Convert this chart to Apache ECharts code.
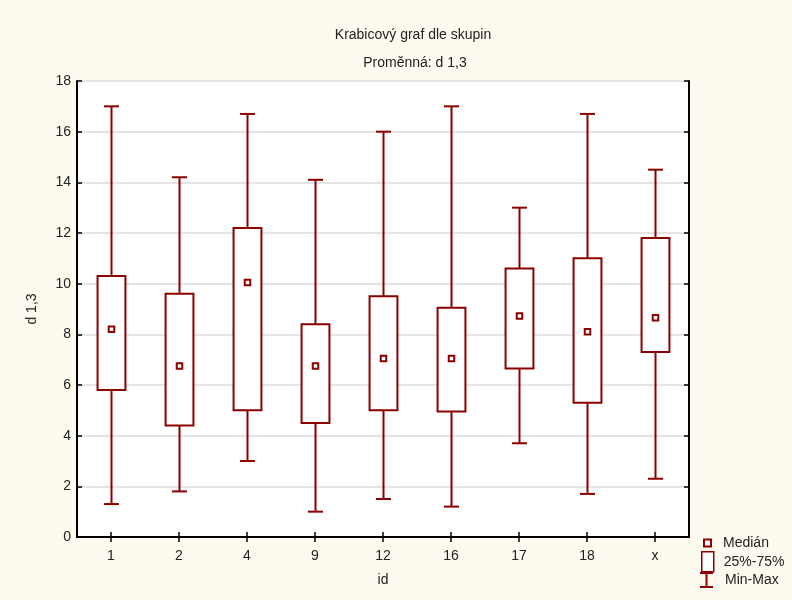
<!DOCTYPE html>
<html>
<head>
<meta charset="utf-8">
<script src="https://cdn.jsdelivr.net/npm/echarts@6/dist/echarts.min.js"></script>
<style>html,body{margin:0;padding:0;background:#FDFAEF;}#c{width:792px;height:600px;}</style>
</head>
<body>
<div id="c"></div>
<script>
const categories = ['1', '2', '4', '9', '12', '16', '17', '18', 'x'];
const minValues    = [1.3, 1.8, 3.0, 1.0, 1.5, 1.2, 3.7, 1.7, 2.3];
const q1Values     = [5.8, 4.4, 5.0, 4.5, 5.0, 4.95, 6.65, 5.3, 7.3];
const medianValues = [8.2, 6.75, 10.05, 6.75, 7.05, 7.05, 8.72, 8.1, 8.65];
const q3Values     = [10.3, 9.6, 12.2, 8.4, 9.5, 9.05, 10.6, 11.0, 11.8];
const maxValues    = [17.0, 14.2, 16.7, 14.1, 16.0, 17.0, 13.0, 16.7, 14.5];
const yTicks = [0, 2, 4, 6, 8, 10, 12, 14, 16, 18];

const RED = '#8B0000';
const TXT = '#222';
const FONT = 'Liberation Sans, Arial, sans-serif';

const boxData = categories.map((c, i) => [i, minValues[i], q1Values[i], medianValues[i], q3Values[i], maxValues[i]]);
const medData = categories.map((c, i) => [i, medianValues[i]]);

function renderWhisker(params, api) {
  const i = api.value(0);
  const band = api.size([1, 0])[0];
  const cap = band * 0.22;
  const pMin = api.coord([i, api.value(1)]);
  const pMax = api.coord([i, api.value(5)]);
  const x = Math.round(pMin[0]) + 0.5;
  const st = {stroke: RED, lineWidth: 2, fill: null};
  return {
    type: 'group',
    children: [
      {type: 'line', shape: {x1: x, y1: pMin[1], x2: x, y2: pMax[1]}, style: st},
      {type: 'line', shape: {x1: x - cap / 2, y1: pMin[1], x2: x + cap / 2, y2: pMin[1]}, style: st},
      {type: 'line', shape: {x1: x - cap / 2, y1: pMax[1], x2: x + cap / 2, y2: pMax[1]}, style: st}
    ]
  };
}
function renderBox(params, api) {
  const i = api.value(0);
  const band = api.size([1, 0])[0];
  const w = band * 0.41;
  const p1 = api.coord([i, api.value(2)]);
  const p3 = api.coord([i, api.value(4)]);
  const x = Math.round(p1[0]) + 0.5;
  return {
    type: 'rect',
    shape: {x: x - w / 2, y: p3[1], width: w, height: p1[1] - p3[1]},
    style: {fill: '#fff', stroke: RED, lineWidth: 2}
  };
}
function renderMedian(params, api) {
  const i = api.value(0);
  const p = api.coord([i, api.value(1)]);
  const x = Math.round(p[0]) + 0.5;
  const s = 5.5;
  return {
    type: 'rect',
    shape: {x: x - s / 2, y: p[1] - s / 2, width: s, height: s},
    style: {fill: '#fff', stroke: RED, lineWidth: 2}
  };
}

const chart = echarts.init(document.getElementById('c'), null, {renderer: 'canvas'});
const axisCommon = {
  axisLine: {show: true, lineStyle: {color: '#000', width: 2}},
  axisTick: {show: true, inside: true, length: 5, lineStyle: {color: '#000', width: 1.5}}
};
const xTick = {axisTick: {show: true, inside: true, alignWithLabel: true, length: 5, lineStyle: {color: '#000', width: 1.5}}};
const legTxt = p => ({fontSize: 14, color: TXT, fontFamily: FONT, padding: [3, 0, 0, p]});
chart.setOption({
  backgroundColor: '#FDFAEF',
  animation: false,
  textStyle: {fontFamily: FONT},
  title: [
    {text: 'Krabicový graf dle skupin', left: 408, top: 23, textAlign: 'center',
     textStyle: {fontSize: 14, fontWeight: 'normal', color: TXT, fontFamily: FONT}},
    {text: 'Proměnná: d 1,3', left: 410, top: 51, textAlign: 'center',
     textStyle: {fontSize: 14, fontWeight: 'normal', color: TXT, fontFamily: FONT}}
  ],
  grid: {left: 77, right: 103, top: 81, bottom: 63, show: true, backgroundColor: '#fff', borderWidth: 0},
  xAxis: [
    Object.assign({
      type: 'category', data: categories, position: 'bottom',
      name: 'id', nameLocation: 'middle', nameGap: 36,
      nameTextStyle: {fontSize: 14, color: TXT, fontFamily: FONT},
      axisLabel: {fontSize: 14, color: TXT, margin: 12, fontFamily: FONT},
      splitLine: {show: false}
    }, axisCommon, xTick),
    Object.assign({
      type: 'category', data: categories, position: 'top',
      axisLabel: {show: false}, splitLine: {show: false}
    }, axisCommon, xTick)
  ],
  yAxis: [
    Object.assign({
      type: 'value', min: 0, max: 18, interval: 2, position: 'left',
      name: 'd 1,3', nameLocation: 'middle', nameGap: 38,
      nameTextStyle: {fontSize: 14, color: TXT, fontFamily: FONT},
      axisLabel: {fontSize: 14, color: TXT, margin: 6, fontFamily: FONT,
        formatter: v => yTicks.indexOf(v) >= 0 ? String(v) : ''},
      splitLine: {show: true, lineStyle: {color: '#dcdcdc', width: 1.5}}
    }, axisCommon),
    Object.assign({
      type: 'value', min: 0, max: 18, interval: 2, position: 'right',
      axisLabel: {show: false}, splitLine: {show: false}
    }, axisCommon)
  ],
  legend: [
    {data: ['Medián'], orient: 'vertical', left: 703, top: 536, padding: 0, itemWidth: 7, itemHeight: 7,
     icon: 'rect', itemStyle: {color: '#fff', borderColor: RED, borderWidth: 2}, textStyle: legTxt(7)},
    {data: ['25%-75%'], orient: 'vertical', left: 701, top: 551, padding: 0, itemWidth: 12, itemHeight: 20,
     icon: 'rect', itemStyle: {color: '#fff', borderColor: RED, borderWidth: 1.5}, textStyle: legTxt(5)},
    {data: ['Min-Max'], orient: 'vertical', left: 700, top: 572, padding: 0, itemWidth: 13, itemHeight: 16,
     icon: 'path://M0,0H13V2H7.5V14H13V16H0V14H5.5V2H0Z', itemStyle: {color: RED}, textStyle: legTxt(7)}
  ],
  series: [
    {name: 'Min-Max', type: 'custom', renderItem: renderWhisker, data: boxData,
     encode: {x: 0, y: [1, 5]}, itemStyle: {color: RED}, z: 2},
    {name: '25%-75%', type: 'custom', renderItem: renderBox, data: boxData,
     encode: {x: 0, y: [2, 4]}, itemStyle: {color: RED}, z: 3},
    {name: 'Medián', type: 'custom', renderItem: renderMedian, data: medData,
     encode: {x: 0, y: 1}, itemStyle: {color: RED}, z: 4}
  ]
});
</script>
</body>
</html>
